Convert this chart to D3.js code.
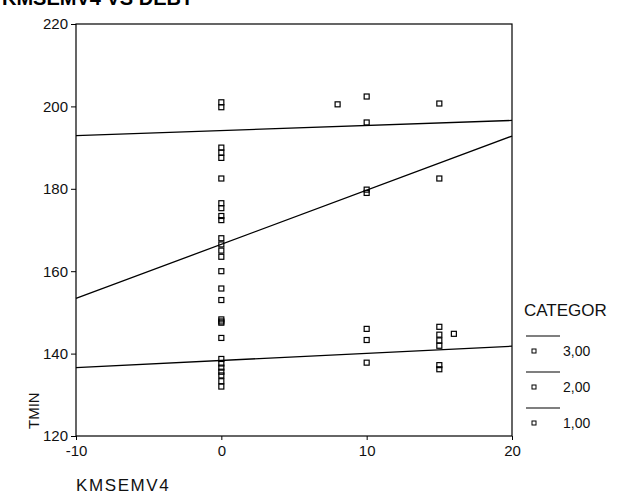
<!DOCTYPE html>
<html>
<head>
<meta charset="utf-8">
<script src="https://cdn.jsdelivr.net/npm/d3@7"></script>
<style>
  html, body { margin: 0; padding: 0; background: #fff; }
  svg { display: block; font-family: "Liberation Sans", Arial, sans-serif; }
</style>
</head>
<body>
<svg id="chart" width="618" height="504"></svg>
<script>
// ---- data ----
const xTicks = [-10, 0, 10, 20];
const yTicks = [120, 140, 160, 180, 200, 220];
const categories = ["3,00", "2,00", "1,00"];

const cat3X = [0, 0, 0, 0, 0, 0, 0, 0, 0, 0, 8, 10, 10, 15];
const cat3Y = [201, 199.8, 190, 188.8, 187.5, 182.5, 176.5, 175.3, 173.4, 172.4, 200.5, 202.4, 196.1, 200.7];

const cat2X = [0, 0, 0, 0, 0, 0, 0, 0, 0, 10, 10, 15];
const cat2Y = [168, 166.5, 165, 163.5, 160, 155.8, 153, 148.3, 147.8, 179.8, 179.0, 182.5];

const cat1X = [0, 0, 0, 0, 0, 0, 0, 0, 0, 10, 10, 10, 15, 15, 15, 15, 15, 15, 16];
const cat1Y = [147.5, 143.8, 138.7, 137.6, 136.6, 135.6, 134.7, 133.3, 132.0, 146, 143.3, 137.8, 146.5, 144.6, 143.2, 141.9, 137.2, 136.2, 144.8];

// fitted lines (endpoints at x = -10 and x = 20)
const lineX = [-10, 20];
const line3Y = [192.9, 196.6];
const line2Y = [153.4, 192.8];
const line1Y = [136.6, 141.8];

// ---- drawing ----
const svg = d3.select("#chart");
const x = d3.scaleLinear().domain([-10, 20]).range([76, 512]);
const y = d3.scaleLinear().domain([120, 220]).range([436, 24]);

// partially visible title at the top edge
svg.append("text")
  .attr("x", 2).attr("y", 5)
  .attr("font-size", 20).attr("font-weight", "bold")
  .text("KMSEMV4 VS DEBT");

// frame
svg.append("rect")
  .attr("x", x(-10)).attr("y", y(220))
  .attr("width", x(20) - x(-10)).attr("height", y(120) - y(220))
  .attr("fill", "none").attr("stroke", "#000").attr("stroke-width", 1.2);

// axes
const fmt = d => String(d);
const yAxis = svg.append("g").attr("transform", `translate(${x(-10)},0)`)
  .call(d3.axisLeft(y).tickValues(yTicks).tickFormat(fmt).tickSize(5).tickPadding(3));
const xAxis = svg.append("g").attr("transform", `translate(0,${y(120)})`)
  .call(d3.axisBottom(x).tickValues(xTicks).tickFormat(fmt).tickSize(4).tickPadding(5));
[yAxis, xAxis].forEach(g => {
  g.select(".domain").remove();
  g.selectAll("line").attr("stroke", "#000");
  g.selectAll("text").attr("font-size", 15).attr("fill", "#111")
    .attr("font-family", "Liberation Sans, Arial, sans-serif");
});

// axis titles
svg.append("text")
  .attr("transform", "translate(39,429) rotate(-90)")
  .attr("font-size", 15).attr("fill", "#111")
  .text("TMIN");
svg.append("text")
  .attr("x", 76).attr("y", 491)
  .attr("font-size", 17).attr("letter-spacing", 1.6).attr("fill", "#111")
  .text("KMSEMV4");

// regression lines
const lineGen = d3.line().x(d => x(d[0])).y(d => y(d[1]));
[line3Y, line2Y, line1Y].forEach(ly => {
  svg.append("path")
    .datum(lineX.map((v, i) => [v, ly[i]]))
    .attr("d", lineGen)
    .attr("fill", "none").attr("stroke", "#000").attr("stroke-width", 1.3);
});

// points
const s = 5;
[[cat3X, cat3Y], [cat2X, cat2Y], [cat1X, cat1Y]].forEach(([xs, ys]) => {
  svg.append("g").selectAll("rect")
    .data(xs.map((v, i) => [v, ys[i]]))
    .join("rect")
    .attr("x", d => x(d[0]) - s / 2)
    .attr("y", d => y(d[1]) - s / 2)
    .attr("width", s).attr("height", s)
    .attr("fill", "none").attr("stroke", "#000").attr("stroke-width", 1.2);
});

// legend
svg.append("text")
  .attr("x", 524).attr("y", 316)
  .attr("font-size", 17).attr("fill", "#111")
  .text("CATEGOR");
categories.forEach((c, i) => {
  const ly = 336 + i * 36;
  svg.append("line")
    .attr("x1", 526).attr("x2", 560).attr("y1", ly).attr("y2", ly)
    .attr("stroke", "#000").attr("stroke-width", 1.2);
  svg.append("rect")
    .attr("x", 532).attr("y", ly + 13).attr("width", 4).attr("height", 4)
    .attr("fill", "none").attr("stroke", "#000").attr("stroke-width", 1);
  svg.append("text")
    .attr("x", 563).attr("y", ly + 20)
    .attr("font-size", 14).attr("fill", "#111")
    .text(c);
});
</script>
</body>
</html>
